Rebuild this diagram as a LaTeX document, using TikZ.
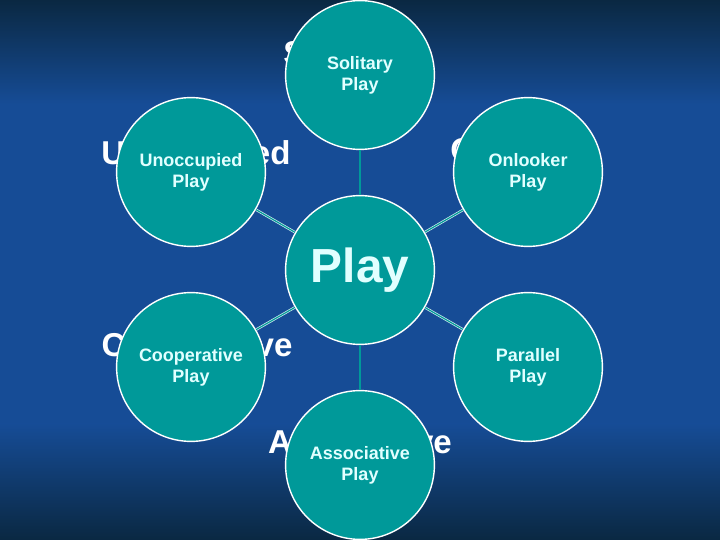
\documentclass[tikz,border=0pt]{standalone}
\usepackage{fontspec}
\setmainfont{Liberation Sans}
\usetikzlibrary{positioning}
\definecolor{bgdark}{RGB}{10,40,66}
\definecolor{bgblue}{RGB}{22,76,150}
\definecolor{playteal}{RGB}{0,153,153}
\definecolor{labelcyan}{RGB}{225,255,255}

\begin{document}
\begin{tikzpicture}[
  bubble/.style={circle, draw=white, line width=1pt, fill=playteal,
    minimum size=3.72cm, inner sep=0pt, align=center, text=labelcyan,
    font=\fontsize{12.8}{15}\selectfont\bfseries},
  hub/.style={bubble, font=\fontsize{34}{38}\selectfont\bfseries},
  ghost/.style={text=white, inner sep=0pt,
    font=\fontsize{23.5}{28}\selectfont\bfseries},
  spoke/.style={draw=white!80!playteal, double=playteal,
    double distance=0.8pt, line width=0.5pt}
]
  % slide background
  \useasboundingbox (0,0) rectangle (18,13.5);
  \fill[bgblue] (0,0) rectangle (18,13.5);
  \shade[top color=bgdark, bottom color=bgblue] (0,10.9) rectangle (18,13.5);
  \shade[top color=bgblue, bottom color=bgdark] (0,0) rectangle (18,2.9);

  % words of the slide, mostly covered by the circles
  \node[ghost, anchor=base west] (wsol) at (7.08,11.875) {Solitary};
  \node[ghost, anchor=base] (wunocc) at (4.9,9.375) {Unoccupied};
  \node[ghost, anchor=base west] (wonl) at (11.25,9.45) {Onlooker};
  \node[ghost, anchor=base] (wcoop) at (4.925,4.575) {Cooperative};
  \node[ghost, anchor=base] (wassoc) at (9,2.175) {Associative};

  % centre and the six kinds of play
  \node[hub] (play) at (9,6.75) {Play};
  \node[bubble] (solitary) at (9,11.625) {Solitary\\Play};
  \node[bubble] (unoccupied) at (4.775,9.2) {Unoccupied\\Play};
  \node[bubble] (onlooker) at (13.2,9.2) {Onlooker\\Play};
  \node[bubble] (cooperative) at (4.775,4.325) {Cooperative\\Play};
  \node[bubble] (parallel) at (13.2,4.325) {Parallel\\Play};
  \node[bubble] (associative) at (9,1.875) {Associative\\Play};

  % spokes
  \foreach \n in {solitary,unoccupied,onlooker,cooperative,parallel,associative}
    \draw[spoke] (play) -- (\n);
\end{tikzpicture}
\end{document}
